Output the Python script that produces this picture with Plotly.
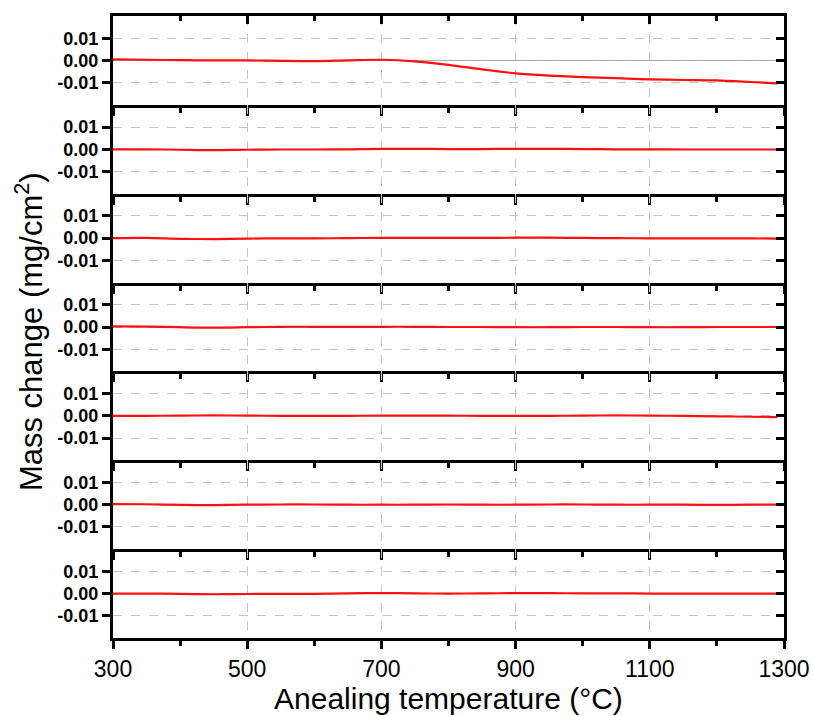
import plotly.graph_objects as go

# ---------------- data ----------------
temperature = [300, 350, 400, 450, 500, 550, 600, 650, 700, 750, 800,
               850, 900, 950, 1000, 1050, 1100, 1150, 1200, 1250, 1290]

panel1 = [0.0005, 0.0003, 0.0001, 0.0, 0.0, -0.0002, -0.0003, 0.0, 0.0003, -0.0004, -0.0020,
          -0.0040, -0.0058, -0.0068, -0.0075, -0.0080, -0.0085, -0.0088, -0.0090, -0.0097, -0.0103]
panel2 = [0.0, 0.0, -0.0002, -0.0004, -0.0002, -0.0001, -0.0001, 0.0, 0.0002, 0.0002, 0.0001,
          0.0001, 0.0002, 0.0002, 0.0001, 0.0, 0.0, -0.0001, -0.0001, -0.0001, -0.0001]
panel3 = [0.0, 0.0001, -0.0003, -0.0004, -0.0002, -0.0001, -0.0001, 0.0, 0.0001, 0.0001, 0.0001,
          0.0001, 0.0002, 0.0002, 0.0001, 0.0, -0.0001, -0.0001, -0.0001, -0.0001, -0.0002]
panel4 = [0.0003, 0.0002, -0.0001, -0.0003, -0.0001, 0.0001, 0.0001, 0.0001, 0.0001, 0.0001, 0.0,
          0.0, -0.0001, -0.0001, 0.0, 0.0, -0.0001, -0.0001, 0.0, 0.0, 0.0]
panel5 = [0.0, 0.0, 0.0001, 0.0002, 0.0001, 0.0, 0.0, 0.0, 0.0001, 0.0001, 0.0001,
          0.0, 0.0, 0.0, 0.0001, 0.0002, 0.0001, 0.0, -0.0002, -0.0004, -0.0006]
panel6 = [0.0003, 0.0002, -0.0001, -0.0002, 0.0, 0.0001, 0.0001, 0.0, 0.0, 0.0, 0.0001,
          0.0, 0.0, 0.0001, 0.0001, 0.0, 0.0, 0.0, -0.0001, 0.0, 0.0]
panel7 = [0.0, 0.0, -0.0001, -0.0003, -0.0002, -0.0001, -0.0001, 0.0001, 0.0002, 0.0001, 0.0,
          0.0001, 0.0002, 0.0002, 0.0001, 0.0001, 0.0, 0.0, 0.0, 0.0, 0.0]
panels = [panel1, panel2, panel3, panel4, panel5, panel6, panel7]

reference_x = [300, 1300]
reference_y = [0.0, 0.0]

x_tickvals = [300, 500, 700, 900, 1100, 1300]
x_ticktext = ["300", "500", "700", "900", "1100", "1300"]
y_tickvals = [-0.01, 0.0, 0.01]
y_ticktext = ["-0.01", "0.00", "0.01"]

x_title = "Anealing temperature (°C)"
y_title = "Mass change (mg/cm<sup>2</sup>)"

# ---------------- figure ----------------
N = len(panels)
FONT = "Liberation Sans, Arial, sans-serif"
GRID = "#c4c4c4"

fig = go.Figure()
layout = {}

for i in range(1, N + 1):
    xs = "" if i == 1 else str(i)
    top = 1 - (i - 1) / N
    bot = 1 - i / N
    layout[f"xaxis{xs}"] = dict(
        domain=[0, 1], anchor=f"y{xs}", range=[300, 1300], automargin=False,
        tickmode="array", tickvals=x_tickvals, ticktext=x_ticktext,
        ticks="outside", ticklen=8, tickwidth=3, tickcolor="black",
        minor=dict(ticks="outside", dtick=100, tick0=300, ticklen=5, tickwidth=3,
                   tickcolor="black", showgrid=False),
        showticklabels=(i == N),
        tickfont=dict(family=FONT, size=23, color="black"),
        showline=True, mirror=False, linewidth=3, linecolor="black",
        showgrid=True, gridcolor=GRID, griddash="dash", gridwidth=1,
        zeroline=False,
    )
    layout[f"yaxis{xs}"] = dict(
        domain=[bot, top], anchor=f"x{xs}", range=[-0.02, 0.02], automargin=False,
        tickmode="array", tickvals=y_tickvals, ticktext=y_ticktext,
        ticks="outside", ticklen=8, tickwidth=3, tickcolor="black",
        tickfont=dict(family=FONT, size=18, color="black", weight="bold"),
        showline=True, mirror=True, linewidth=3, linecolor="black",
        showgrid=True, gridcolor=GRID, griddash="dash", gridwidth=1,
        zeroline=False,
    )
    ry = N + i
    layout[f"yaxis{ry}"] = dict(
        overlaying=f"y{xs}", side="right", anchor=f"x{xs}", range=[-0.02, 0.02],
        automargin=False, tickmode="array", tickvals=y_tickvals,
        ticks="inside", ticklen=8, tickwidth=3, tickcolor="black",
        showticklabels=False, showgrid=False, showline=False, zeroline=False,
    )
    fig.add_trace(go.Scatter(x=[], y=[], xaxis=f"x{xs}", yaxis=f"y{ry}",
                             showlegend=False, hoverinfo="skip"))

tx = 2 * N + 1
layout[f"xaxis{tx}"] = dict(
    overlaying="x", side="top", anchor="y", range=[300, 1300], automargin=False,
    tickmode="array", tickvals=x_tickvals,
    ticks="inside", ticklen=8, tickwidth=3, tickcolor="black",
    minor=dict(ticks="inside", dtick=100, tick0=300, ticklen=5, tickwidth=3,
               tickcolor="black", showgrid=False),
    showticklabels=False, showgrid=False, showline=True, linewidth=3,
    linecolor="black", zeroline=False,
)
fig.add_trace(go.Scatter(x=[], y=[], xaxis=f"x{tx}", yaxis="y",
                         showlegend=False, hoverinfo="skip"))

fig.add_trace(go.Scatter(x=reference_x, y=reference_y, mode="lines",
                         line=dict(color="#a8a8a8", width=1),
                         xaxis="x", yaxis="y", showlegend=False, hoverinfo="skip"))

for i, vals in enumerate(panels, start=1):
    xs = "" if i == 1 else str(i)
    fig.add_trace(go.Scatter(
        x=temperature, y=vals, mode="lines",
        line=dict(color="#ff1010", width=2.2, shape="spline", smoothing=0.8),
        xaxis=f"x{xs}", yaxis=f"y{xs}", showlegend=False,
    ))

fig.update_layout(
    **layout,
    template="none",
    width=813, height=716,
    margin=dict(l=113, r=29, t=16, b=78, autoexpand=False),
    paper_bgcolor="white", plot_bgcolor="white",
    font=dict(family=FONT, color="black"),
    annotations=[
        dict(text=x_title, xref="paper", yref="paper", x=0.5, y=-0.097,
             xanchor="center", yanchor="middle", showarrow=False,
             font=dict(family=FONT, size=30, color="black")),
        dict(text=y_title, xref="paper", yref="paper", x=-0.125, y=0.492,
             xanchor="center", yanchor="middle", textangle=-90, showarrow=False,
             font=dict(family=FONT, size=31, color="black")),
    ],
)

# remove the browser's default page margin and scrollbars
fig.write_html(
    "out.html",
    config={"displayModeBar": False},
    post_script="document.body.style.margin='0';document.body.style.overflow='hidden';",
)
